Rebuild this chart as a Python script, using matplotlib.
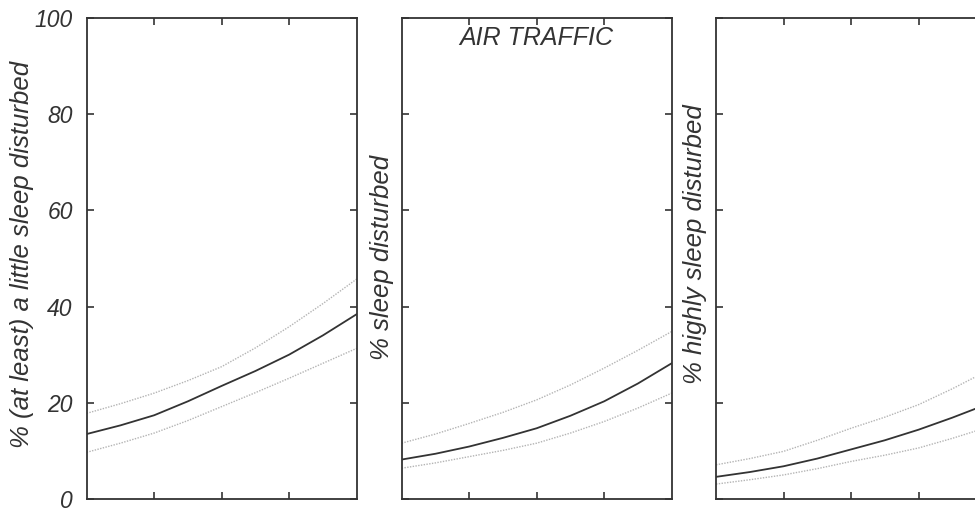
import matplotlib
matplotlib.use("Agg")
import matplotlib.pyplot as plt

# sound level (no tick labels in the original), read at eighths of the axis
lnight = [40, 42.5, 45, 47.5, 50, 52.5, 55, 57.5, 60]

# % (at least) a little sleep disturbed
little_mid = [13.5, 15.3, 17.4, 20.3, 23.5, 26.6, 30.0, 34.0, 38.4]
little_hi = [17.8, 19.8, 22.0, 24.6, 27.5, 31.4, 35.8, 40.6, 45.7]
little_lo = [9.7, 11.6, 13.7, 16.3, 19.2, 22.1, 25.1, 28.2, 31.3]

# % sleep disturbed
sleep_mid = [8.2, 9.4, 10.9, 12.7, 14.7, 17.3, 20.3, 24.0, 28.2]
sleep_hi = [11.6, 13.5, 15.7, 18.0, 20.6, 23.7, 27.2, 30.9, 34.8]
sleep_lo = [6.4, 7.5, 8.8, 10.1, 11.6, 13.7, 16.1, 18.9, 22.0]

# % highly sleep disturbed
high_mid = [4.6, 5.6, 6.8, 8.4, 10.3, 12.2, 14.4, 16.9, 19.6]
high_hi = [7.1, 8.4, 9.9, 12.2, 14.7, 17.0, 19.6, 22.9, 26.5]
high_lo = [3.1, 4.0, 5.0, 6.3, 7.8, 9.1, 10.6, 12.6, 14.8]

y_ticks = [0, 20, 40, 60, 80, 100]
x_ticks = [45, 50, 55]

ylabels = [
    "% (at least) a little sleep disturbed",
    "% sleep disturbed",
    "% highly sleep disturbed",
]

plt.rcParams["font.family"] = ["Liberation Sans", "DejaVu Sans"]
plt.rcParams["font.style"] = "italic"

INK = "#333333"
BAND = "#b4b4b4"

fig = plt.figure(figsize=(9.75, 5.11), dpi=100)

panels = [
    (0.0889, little_mid, little_hi, little_lo, (-0.195, 0.509)),
    (0.4120, sleep_mid, sleep_hi, sleep_lo, (-0.029, 0.502)),
    (0.7344, high_mid, high_hi, high_lo, (-0.033, 0.53)),
]

for i, (left, mid, hi, lo, lab_xy) in enumerate(panels):
    ax = fig.add_axes([left, 0.0235, 0.2769, 0.9417])
    ax.plot(lnight, hi, color=BAND, lw=1.0, linestyle=(0, (1, 1)))
    ax.plot(lnight, lo, color=BAND, lw=1.0, linestyle=(0, (1, 1)))
    ax.plot(lnight, mid, color=INK, lw=1.3)

    ax.set_xlim(lnight[0], lnight[-1])
    ax.set_ylim(0, 100)
    ax.set_xticks(x_ticks)
    ax.set_xticklabels([])
    ax.set_yticks(y_ticks)
    ax.tick_params(direction="in", length=5, width=1.2, color=INK,
                   top=True, right=True, labelsize=16.5, labelcolor=INK, pad=10)
    if i > 0:
        ax.set_yticklabels([])
    for s in ax.spines.values():
        s.set_linewidth(1.3)
        s.set_color(INK)

    ax.set_ylabel(ylabels[i], fontsize=18.5, color=INK)
    ax.yaxis.set_label_coords(*lab_xy)

    if i == 1:
        ax.text(0.5, 0.957, "AIR TRAFFIC", transform=ax.transAxes,
                ha="center", va="center", fontsize=18, color=INK)

fig.savefig("out.png", dpi=100)
